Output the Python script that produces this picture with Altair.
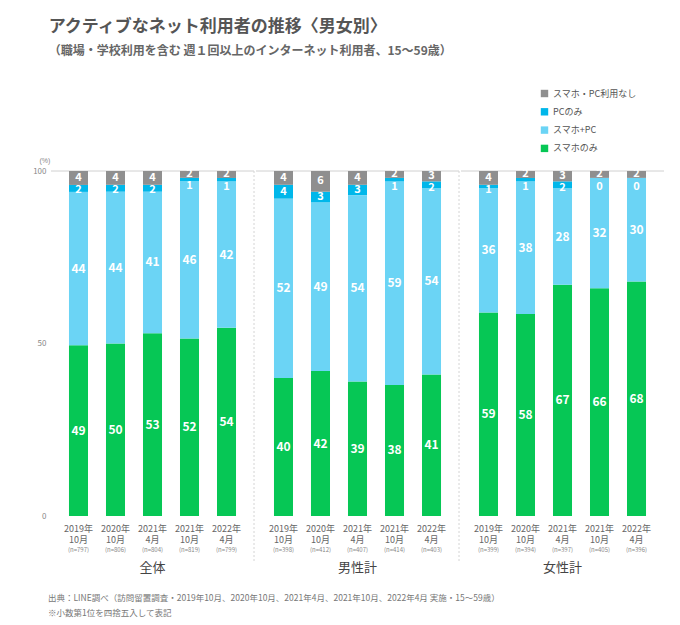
import altair as alt
import pandas as pd

groups = ["全体", "男性計", "女性計"]
periods = ["2019年|10月", "2020年|10月", "2021年|4月", "2021年|10月", "2022年|4月"]
n_values = {
    "全体": [797, 806, 804, 819, 799],
    "男性計": [398, 412, 407, 414, 403],
    "女性計": [399, 394, 397, 405, 396],
}
# stack order bottom -> top
categories = ["スマホのみ", "スマホ+PC", "PCのみ", "スマホ・PC利用なし"]
sp_only = {"全体": [49, 50, 53, 52, 54], "男性計": [40, 42, 39, 38, 41], "女性計": [59, 58, 67, 66, 68]}
sp_pc = {"全体": [44, 44, 41, 46, 42], "男性計": [52, 49, 54, 59, 54], "女性計": [36, 38, 28, 32, 30]}
pc_only = {"全体": [2, 2, 2, 1, 1], "男性計": [4, 3, 3, 1, 2], "女性計": [1, 1, 2, 0, 0]}
none_ = {"全体": [4, 4, 4, 2, 2], "男性計": [4, 6, 4, 2, 3], "女性計": [4, 2, 3, 2, 2]}
legend_order = ["スマホ・PC利用なし", "PCのみ", "スマホ+PC", "スマホのみ"]
colors = {"スマホ・PC利用なし": "#8f8f8f", "PCのみ": "#00b7ea", "スマホ+PC": "#6bd4f5", "スマホのみ": "#06c755"}
footer_lines = [
    "出典：LINE調べ（訪問留置調査・2019年10月、2020年10月、2021年4月、2021年10月、2022年4月 実施・15～59歳）",
    "※小数第1位を四捨五入して表記",
]

series = [sp_only, sp_pc, pc_only, none_]
rows = []
for g in groups:
    for i, p in enumerate(periods):
        vals = [s[g][i] for s in series]
        total = sum(vals)
        cum = 0.0
        mids = []
        for k, (c, v) in enumerate(zip(categories, vals)):
            share = v * 100.0 / total
            y0, y1 = cum, cum + share
            cum = y1
            mids.append((y0 + y1) / 2)
        # keep small top labels from overlapping
        if mids[2] > mids[3] - 3.5:
            mids[2] = mids[3] - 3.5
        cum = 0.0
        for k, (c, v) in enumerate(zip(categories, vals)):
            share = v * 100.0 / total
            rows.append({
                "group": g, "period": p, "cat": c, "value": v,
                "y0": cum, "y1": cum + share, "mid": mids[k],
                "n": f"(n={n_values[g][i]})",
            })
            cum += share
df = pd.DataFrame(rows)

FONT = "Noto Sans CJK JP"
W, H = 203, 345

xenc = alt.X("period:N", sort=periods, title=None, axis=None,
             scale=alt.Scale(paddingInner=0.486, paddingOuter=0.486))

bars = alt.Chart().mark_bar().encode(
    x=xenc,
    y=alt.Y("y0:Q", scale=alt.Scale(domain=[0, 100], nice=False),
            axis=alt.Axis(values=[0, 50, 100], grid=False, ticks=False, domain=False,
                          labelFontSize=8, labelColor="#888", labelPadding=4, labelFont=FONT,
                          title="(%)", titleAngle=0, titleFontSize=7, titleColor="#888",
                          titleFontWeight="normal", titleX=-11, titleY=-8, titleAlign="left")),
    y2="y1:Q",
    color=alt.Color("cat:N", scale=alt.Scale(domain=legend_order, range=[colors[c] for c in legend_order]),
                    legend=alt.Legend(title=None, orient="none", legendX=489, legendY=-82,
                                      symbolType="square", symbolSize=55, symbolStrokeWidth=0,
                                      labelFontSize=9, labelColor="#555", labelFont=FONT,
                                      rowPadding=8.3, symbolOpacity=1)),
)

labels = alt.Chart().mark_text(color="white", fontWeight="bold", font=FONT, baseline="middle").encode(
    x=alt.X("period:N", sort=periods),
    y=alt.Y("mid:Q"),
    text="value:Q",
    size=alt.condition("datum.cat == 'スマホのみ' || datum.cat == 'スマホ+PC'", alt.value(12), alt.value(11)),
)

first_row = f"datum.period == '{periods[0]}' && datum.cat == '{categories[0]}'"

top_rule = alt.Chart().mark_rule(color="#d0d0d0", strokeWidth=1).encode(
    y=alt.datum(100)
).transform_filter(first_row)

sep = alt.Chart().mark_rule(color="#d4d4d4", strokeWidth=1, strokeDash=[2, 2]).encode(
    x=alt.value(W), y=alt.value(0), y2=alt.value(H + 45)
).transform_filter(first_row + " && datum.group != '女性計'")

period_lab = alt.Chart().mark_text(fontSize=9, color="#666", font=FONT, baseline="top",
                                   lineBreak="|", lineHeight=11).encode(
    x=alt.X("period:N", sort=periods),
    y=alt.value(H + 9),
    text="period:N",
).transform_filter(f"datum.cat == '{categories[0]}'")

nlab = alt.Chart().mark_text(fontSize=6, color="#888", font=FONT, baseline="middle").encode(
    x=alt.X("period:N", sort=periods),
    y=alt.value(H + 34),
    text="n:N",
).transform_filter(f"datum.cat == '{categories[0]}'")

group_lab = alt.Chart().mark_text(fontSize=13, color="#444", font=FONT, baseline="middle").encode(
    x=alt.X("period:N", sort=periods),
    y=alt.value(H + 52),
    text="group:N",
).transform_filter(f"datum.cat == '{categories[0]}' && datum.period == '{periods[2]}'")

layered = alt.layer(top_rule, bars, labels, sep, period_lab, nlab, group_lab, data=df).properties(
    width=W, height=H)

main = layered.facet(
    column=alt.Column("group:N", sort=groups, header=alt.Header(title=None, labels=False)),
    spacing=0,
)

footer_df = pd.DataFrame({"i": list(range(len(footer_lines))), "t": footer_lines})
footer = alt.Chart(footer_df).mark_text(align="left", baseline="middle", fontSize=8.5,
                                         color="#777", font=FONT, dx=-3).encode(
    x=alt.value(0),
    y=alt.Y("i:O", axis=None, scale=alt.Scale(paddingOuter=0.5)),
    text="t:N",
).properties(width=600, height=30)

chart = alt.vconcat(main, footer, spacing=15).properties(
    title=alt.TitleParams(
        text="アクティブなネット利用者の推移〈男女別〉",
        subtitle="（職場・学校利用を含む 週１回以上のインターネット利用者、15～59歳）",
        anchor="start", font=FONT, fontSize=17, fontWeight="bold", color="#555",
        subtitleFont=FONT, subtitleFontSize=12, subtitleColor="#666", subtitleFontWeight="bold",
        subtitlePadding=10, offset=31, dx=16,
    ),
    padding={"left": 24, "top": 10, "right": 5, "bottom": 5},
    background="white",
).configure_view(stroke=None)

chart.save("out.html", embed_options={"renderer": "svg", "actions": False})
